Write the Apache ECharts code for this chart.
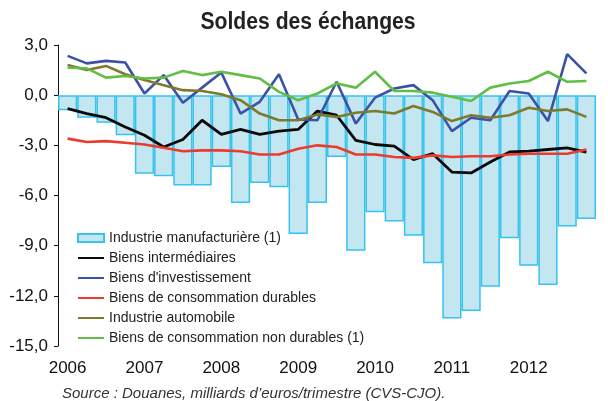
<!DOCTYPE html>
<html>
<head>
<meta charset="utf-8">
<script src="https://cdn.jsdelivr.net/npm/echarts@6/dist/echarts.min.js"></script>
<style>
  html, body { margin: 0; padding: 0; background: #fff; }
  #chart { width: 608px; height: 401px; }
</style>
</head>
<body>
<div id="chart"></div>
<script>
// trimestres 2006T1 .. 2012T4
const years = ["2006", "2007", "2008", "2009", "2010", "2011", "2012"];
const quarters = [];
years.forEach(y => { for (let q = 1; q <= 4; q++) quarters.push(y + " T" + q); });

const yTicks = [3, 0, -3, -6, -9, -12, -15];

// Industrie manufacturière (1)
const manuf = [-0.9, -1.35, -1.65, -2.4, -4.7, -4.85, -5.4, -5.4, -4.3, -6.45, -5.25, -5.5,
  -8.3, -6.45, -3.7, -9.3, -7.0, -7.55, -8.4, -10.05, -13.35, -12.9, -11.45, -8.55,
  -10.2, -11.35, -7.85, -7.4];
// Biens intermédiaires
const interm = [-0.8, -1.1, -1.35, -1.9, -2.4, -3.1, -2.65, -1.5, -2.35, -2.05, -2.35, -2.15,
  -2.05, -0.95, -1.2, -2.7, -2.95, -3.05, -3.85, -3.5, -4.6, -4.65, -4.0, -3.4,
  -3.35, -3.25, -3.15, -3.4];
// Biens d'investissement
const invest = [2.35, 1.9, 2.05, 1.95, 0.1, 1.2, -0.45, 0.45, 1.35, -1.1, -0.4, 1.25,
  -1.45, -1.5, 0.8, -1.7, -0.15, 0.4, 0.6, -0.3, -2.15, -1.35, -1.5, 0.25,
  0.1, -1.55, 2.45, 1.3];
// Biens de consommation durables
const durables = [-2.6, -2.8, -2.75, -2.85, -2.95, -3.15, -3.35, -3.3, -3.3, -3.35, -3.55, -3.55,
  -3.2, -3.0, -3.1, -3.55, -3.55, -3.7, -3.75, -3.6, -3.7, -3.65, -3.65, -3.55,
  -3.5, -3.5, -3.5, -3.25];
// Industrie automobile
const auto = [1.8, 1.5, 1.75, 1.25, 0.9, 0.6, 0.3, 0.25, 0.05, -0.3, -1.1, -1.5,
  -1.5, -1.15, -1.3, -1.05, -0.95, -1.1, -0.65, -1.0, -1.55, -1.2, -1.35, -1.2,
  -0.75, -0.95, -0.85, -1.3];
// Biens de consommation non durables (1)
const nonDurables = [1.65, 1.6, 1.05, 1.15, 1.0, 1.05, 1.45, 1.2, 1.4, 1.2, 1.0, 0.2,
  -0.3, 0.1, 0.7, 0.45, 1.4, 0.25, 0.25, 0.15, -0.1, -0.35, 0.45, 0.7,
  0.85, 1.4, 0.8, 0.85];

const font = "'Liberation Sans', Arial, sans-serif";

const chart = echarts.init(document.getElementById("chart"));

function line(name, data, color, width) {
  return {
    name: name,
    type: "line",
    data: data,
    symbol: "none",
    z: 3,
    lineStyle: { color: color, width: width },
    itemStyle: { color: color }
  };
}

// entrée de légende pour une courbe : trait seul, sans symbole
function lineLegend(name) {
  return { name: name, itemStyle: { opacity: 0 } };
}

const option = {
  animation: false,
  grid: { left: 58, right: 12, top: 45, bottom: 55 },
  legend: {
    orient: "vertical",
    left: 72,
    top: 226,
    itemWidth: 26,
    itemHeight: 8,
    itemGap: 6,
    textStyle: { fontFamily: font, fontSize: 14, color: "#222", lineHeight: 14 },
    data: [
      { name: "Industrie manufacturière (1)", icon: "rect" },
      lineLegend("Biens intermédiaires"),
      lineLegend("Biens d'investissement"),
      lineLegend("Biens de consommation durables"),
      lineLegend("Industrie automobile"),
      lineLegend("Biens de consommation non durables (1)")
    ]
  },
  xAxis: {
    type: "category",
    data: quarters,
    boundaryGap: true,
    axisLine: { show: false },
    axisTick: { show: false },
    axisLabel: {
      interval: 3,
      margin: 14,
      fontFamily: font,
      fontSize: 17,
      color: "#111",
      formatter: v => v.slice(0, 4)
    }
  },
  yAxis: {
    type: "value",
    min: -15,
    max: 3,
    interval: 3,
    splitLine: { show: false },
    axisLine: { show: true, lineStyle: { color: "#111", width: 1 } },
    axisTick: { show: true, length: 4, lineStyle: { color: "#111" } },
    axisLabel: {
      margin: 10,
      fontFamily: font,
      fontSize: 17,
      color: "#111",
      formatter: v => v.toFixed(1).replace(".", ",")
    }
  },
  series: [
    {
      name: "Industrie manufacturière (1)",
      type: "bar",
      data: manuf,
      barCategoryGap: 0,
      z: 1,
      itemStyle: { color: "#c3e6f0", borderColor: "#35c3ef", borderWidth: 1.5 }
    },
    line("Biens intermédiaires", interm, "#0a0a0a", 2.8),
    line("Biens d'investissement", invest, "#3b52a8", 2.6),
    line("Biens de consommation durables", durables, "#ec3a2c", 2.6),
    line("Industrie automobile", auto, "#7d7a2c", 2.6),
    line("Biens de consommation non durables (1)", nonDurables, "#62bd45", 2.6)
  ],
  graphic: [
    {
      // titre resserré (police étroite absente)
      type: "text",
      x: 308,
      y: 23,
      scaleX: 0.92,
      style: {
        text: "Soldes des échanges",
        font: "bold 23px " + font,
        fill: "#222",
        align: "center",
        verticalAlign: "middle"
      }
    },
    {
      type: "text",
      left: 62,
      top: 386,
      style: {
        text: "Source : Douanes, milliards d’euros/trimestre (CVS-CJO).",
        font: "italic 15px " + font,
        fill: "#333"
      }
    }
  ]
};

chart.setOption(option);
</script>
</body>
</html>
